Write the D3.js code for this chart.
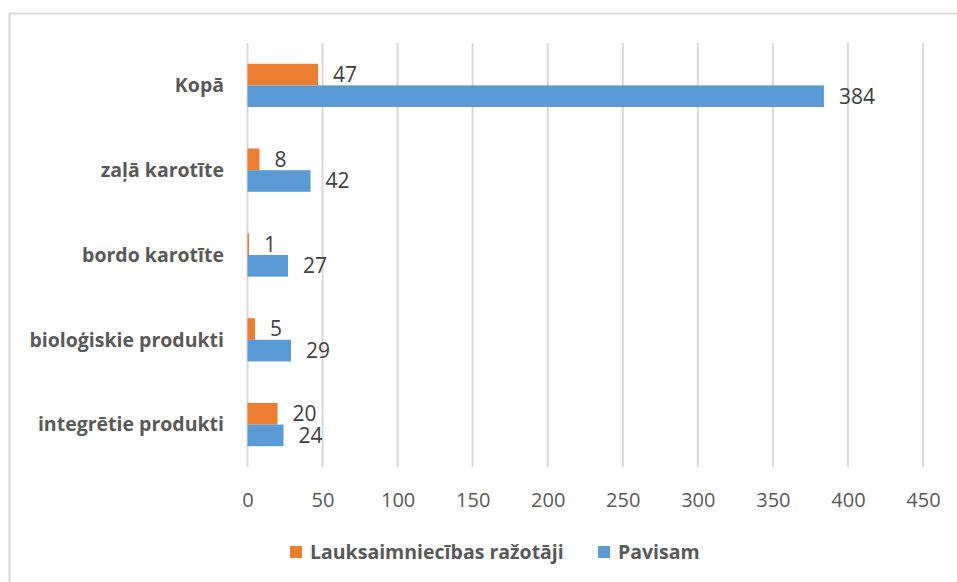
<!DOCTYPE html>
<html>
<head>
<meta charset="utf-8">
<script src="https://cdn.jsdelivr.net/npm/d3@7"></script>
<style>
  body { margin: 0; background: #fff; }
  svg { display: block; font-family: 'Open Sans', sans-serif; }
</style>
</head>
<body>
<svg id="chart" width="957" height="582"></svg>
<script>
// Chart data
const categories = ['Kopā', 'zaļā karotīte', 'bordo karotīte', 'bioloģiskie produkti', 'integrētie produkti']
const producers = [47, 8, 1, 5, 20]
const total = [384, 42, 27, 29, 24]
const seriesNames = ['Lauksaimniecības ražotāji', 'Pavisam']
const seriesColors = ['#ED7D31', '#5B9BD5']
const xTicks = [0, 50, 100, 150, 200, 250, 300, 350, 400, 450]

const svg = d3.select('#chart')

// Outer chart border
svg.append('rect')
  .attr('x', 9.5).attr('y', 13.5)
  .attr('width', 960).attr('height', 600)
  .attr('fill', 'none')
  .attr('stroke', '#D9D9D9')
  .attr('stroke-width', 2)

let x = d3.scaleLinear().domain([0, 450]).range([247.5, 923])
let y = d3.scaleBand().domain(categories).range([43, 467])
  .paddingInner(0.49).paddingOuter(0.245)
let sub = d3.scaleBand().domain([0, 1]).range([0, y.bandwidth()])

// Gridlines
svg.append('g')
  .selectAll('line')
  .data(xTicks)
  .join('line')
  .attr('x1', d => x(d)).attr('x2', d => x(d))
  .attr('y1', 43).attr('y2', 467)
  .attr('stroke', '#D9D9D9')
  .attr('stroke-width', 2)

// Axis tick labels
let xAxis = d3.axisBottom(x).tickValues(xTicks).tickSize(0).tickPadding(0)
let gx = svg.append('g')
  .attr('transform', 'translate(0,' + 500 + ')')
  .call(xAxis)
gx.select('.domain').remove()
gx.selectAll('text')
  .attr('dy', '0.35em')
  .attr('fill', '#595959')
  .style('font-size', '20px')
  .style('font-family', "'Open Sans', sans-serif")

// Category labels
svg.append('g')
  .selectAll('text')
  .data(categories)
  .join('text')
  .attr('x', 224)
  .attr('y', d => y(d) + y.bandwidth() / 2)
  .attr('dy', '0.35em')
  .attr('text-anchor', 'end')
  .attr('fill', '#595959')
  .style('font-weight', 'bold')
  .style('font-size', '19.5px')
  .text(d => d)

// Bars and value labels
let series = [producers, total]
series.forEach((vals, si) => {
  let g = svg.append('g')
  g.selectAll('rect')
    .data(vals)
    .join('rect')
    .attr('x', x(0))
    .attr('y', (d, i) => y(categories[i]) + sub(si))
    .attr('width', d => x(d) - x(0))
    .attr('height', sub.bandwidth())
    .attr('fill', seriesColors[si])
  g.selectAll('text')
    .data(vals)
    .join('text')
    .attr('x', d => x(d) + 15)
    .attr('y', (d, i) => y(categories[i]) + sub(si) + sub.bandwidth() / 2)
    .attr('dy', '0.35em')
    .attr('fill', '#404040')
    .style('font-size', '21px')
    .text(d => d)
})

// Legend
let legendX = [290, 598]
let legend = svg.append('g')
seriesNames.forEach((name, i) => {
  legend.append('rect')
    .attr('x', legendX[i]).attr('y', 546)
    .attr('width', 12).attr('height', 12)
    .attr('fill', seriesColors[i])
  legend.append('text')
    .attr('x', legendX[i] + 20).attr('y', 552)
    .attr('dy', '0.35em')
    .attr('fill', '#595959')
    .style('font-weight', 'bold')
    .style('font-size', '19.5px')
    .text(name)
})
</script>
</body>
</html>
